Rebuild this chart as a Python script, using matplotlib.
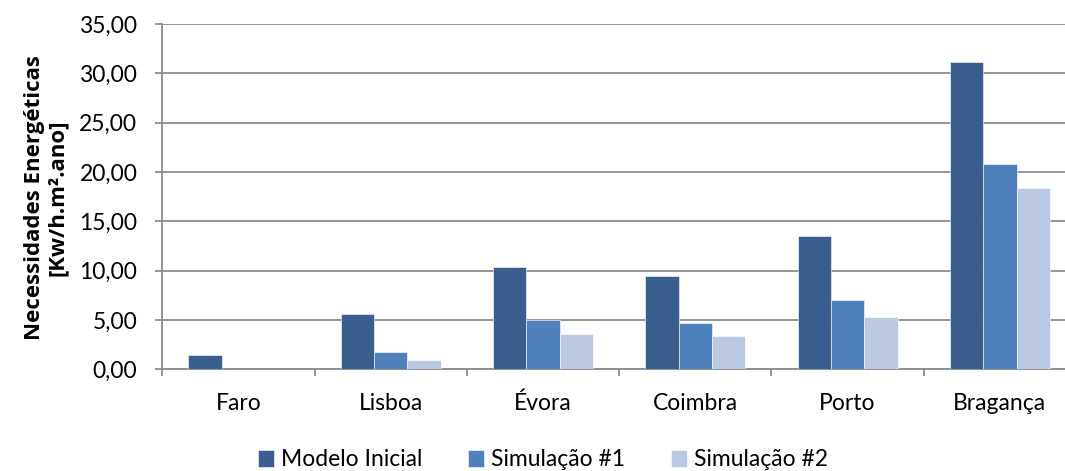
import matplotlib
matplotlib.use("Agg")
import matplotlib.pyplot as plt
import numpy as np

categories = ["Faro", "Lisboa", "Évora", "Coimbra", "Porto", "Bragança"]
modelo_inicial = [1.45, 5.6, 10.4, 9.5, 13.5, 31.2]
simulacao_1 = [0.0, 1.8, 5.0, 4.65, 7.0, 20.8]
simulacao_2 = [0.0, 0.95, 3.6, 3.4, 5.3, 18.4]
series_names = ["Modelo Inicial", "Simulação #1", "Simulação #2"]
colors = ["#3A5F8E", "#4F81BD", "#BBC8E1"]

plt.rcParams['font.family'] = ['Lato', 'DejaVu Sans']

fig = plt.figure(figsize=(10.65, 4.71), dpi=100)
ax = fig.add_axes([162.3 / 1065, 0.216, (1076 - 162.3) / 1065, 0.733])

x = np.arange(len(categories))
w = 0.219
for i, (vals, name, c) in enumerate(zip([modelo_inicial, simulacao_1, simulacao_2], series_names, colors)):
    ax.bar(x + (i - 1) * w, vals, width=w, color=c, label=name, zorder=3,
           edgecolor="white", linewidth=0.4)

ax.set_xlim(-0.5, len(categories) - 0.5)
ax.set_ylim(0, 35)
yt = np.arange(0, 35.1, 5)
ax.set_yticks(yt)
ax.set_yticklabels([f"{v:.2f}".replace(".", ",") for v in yt], fontsize=16.5)
ax.yaxis.grid(True, color="#8C8C8C", linewidth=1.3, zorder=0)
ax.set_axisbelow(True)

ax.set_xticks(x)
ax.set_xticklabels(categories, fontsize=16.5)
ax.tick_params(axis="x", length=0, pad=17)
ax.set_xticks(np.arange(-0.5, len(categories), 1), minor=True)
ax.tick_params(axis="x", which="minor", length=5, color="#8C8C8C", width=1.3)
ax.tick_params(axis="y", length=5, color="#8C8C8C", width=1.3, pad=13)

for s in ["top", "right"]:
    ax.spines[s].set_visible(False)
for s in ["left", "bottom"]:
    ax.spines[s].set_color("#8C8C8C")
    ax.spines[s].set_linewidth(1.3)

fig.text(46 / 1065, 1 - 198 / 471, "Necessidades Energéticas\n[Kw/h.m².ano]", rotation=90,
         ha="center", va="center", fontsize=16, fontweight="bold",
         family=["Open Sans", "DejaVu Sans"], linespacing=1.1, multialignment="center")

fig.legend(*ax.get_legend_handles_labels(), loc="center", bbox_to_anchor=(543 / 1065, 1 - 460 / 471),
           ncol=3, frameon=False, fontsize=16.5, handlelength=0.7, handleheight=0.7,
           handletextpad=0.3, columnspacing=2.0, borderpad=0)

fig.savefig("out.png", dpi=100)
